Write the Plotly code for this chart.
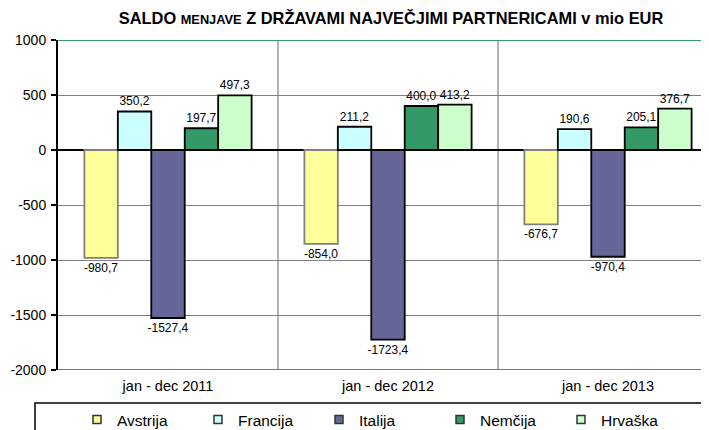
import plotly.graph_objects as go

categories = ["jan - dec 2011", "jan - dec 2012", "jan - dec 2013"]
series_names = ["Avstrija", "Francija", "Italija", "Nemčija", "Hrvaška"]
avstrija = [-980.7, -854.0, -676.7]
francija = [350.2, 211.2, 190.6]
italija = [-1527.4, -1723.4, -970.4]
nemcija = [197.7, 400.0, 205.1]
hrvaska = [497.3, 413.2, 376.7]
y_ticks = [1000, 500, 0, -500, -1000, -1500, -2000]

series_values = [avstrija, francija, italija, nemcija, hrvaska]
fills = ["#FFFF99", "#CCFFFF", "#666699", "#339966", "#CCFFCC"]
borders = ["#808080", "#000000", "#000000", "#000000", "#000000"]

FONT = "Liberation Sans, Arial, sans-serif"

fig = go.Figure()
xs = list(range(len(categories)))
for name, vals, fc, bc in zip(series_names, series_values, fills, borders):
    fig.add_trace(go.Bar(
        x=xs, y=vals, name=name, showlegend=False,
        marker=dict(color=fc, line=dict(color=bc, width=1.8)),
        text=[f"{v:.1f}".replace(".", ",") for v in vals],
        textposition="outside", cliponaxis=False, constraintext="none",
        textfont=dict(family=FONT, size=12, color="#000000"),
    ))
# legend-only entries with small square swatches
for name, fc, bc in zip(series_names, fills, borders):
    fig.add_trace(go.Scatter(
        x=[None], y=[None], name=name, mode="markers",
        marker=dict(symbol="square", size=8, color=fc, line=dict(color="#333333", width=1.5)),
    ))

# page body has an 8px margin; work in figure coordinates (screen - 8)
OFF = 8
W, H = 709 - OFF, 430 - OFF
ml, mr, mt = 58 - OFF, 0, 40 - OFF
mb = H - (370 - OFF)
pw = W - ml - mr
ph = H - mt - mb


def py(screen_y):
    return 1 - (screen_y - OFF - mt) / ph


def px(screen_x):
    return (screen_x - OFF - ml) / pw


shapes = []
for b in [0.5, 1.5]:
    shapes.append(dict(type="line", xref="x", yref="y", x0=b, x1=b, y0=-2000, y1=1000,
                       line=dict(color="#808080", width=1.2), layer="below"))
for yy in [1000, -2000]:
    shapes.append(dict(type="line", xref="paper", yref="y", x0=0, x1=1, y0=yy, y1=yy,
                       line=dict(color="#339966", width=2)))
shapes.append(dict(type="rect", xref="paper", yref="paper",
                   x0=px(35), x1=1.05, y0=py(403), y1=py(445),
                   line=dict(color="#000000", width=1.5), fillcolor="rgba(0,0,0,0)"))

fig.update_layout(
    width=W, height=H,
    margin=dict(l=ml, r=mr, t=mt, b=mb, autoexpand=False),
    paper_bgcolor="white", plot_bgcolor="white",
    barmode="group", bargap=0.24, bargroupgap=0,
    font=dict(family=FONT, size=13, color="#000000"),
    title=dict(
        text="<b>SALDO <span style='font-size:12.8px'>MENJAVE</span> Z DRŽAVAMI NAJVEČJIMI PARTNERICAMI v mio EUR</b>",
        x=(391 - OFF) / W, xanchor="center", y=1 - (18 - OFF) / H, yanchor="middle",
        font=dict(family=FONT, size=16.4, color="#000000"),
    ),
    xaxis=dict(
        range=[-0.5, 2.5 - (718 - 709) / 220],
        tickvals=xs, ticktext=categories, showgrid=False, zeroline=False,
        showline=False, ticks="", tickfont=dict(size=14.5), ticklabelstandoff=5,
    ),
    yaxis=dict(
        range=[-2000, 1000], tickvals=y_ticks, ticktext=[str(v) for v in y_ticks],
        showgrid=True, gridcolor="#808080", gridwidth=1.2,
        zeroline=True, zerolinecolor="#000000", zerolinewidth=1.8,
        showline=True, linecolor="#000000", linewidth=2,
        ticks="outside", ticklen=5, tickcolor="#000000", tickwidth=1.5,
        tickfont=dict(size=14), ticklabelstandoff=2,
    ),
    legend=dict(
        orientation="h", x=px(77), xanchor="left",
        y=py(403), yanchor="top",
        entrywidth=76, entrywidthmode="pixels", itemwidth=30,
        font=dict(family=FONT, size=15.5), bgcolor="rgba(0,0,0,0)",
        itemclick=False, itemdoubleclick=False,
    ),
    shapes=shapes,
)

fig.write_html("out.html")
